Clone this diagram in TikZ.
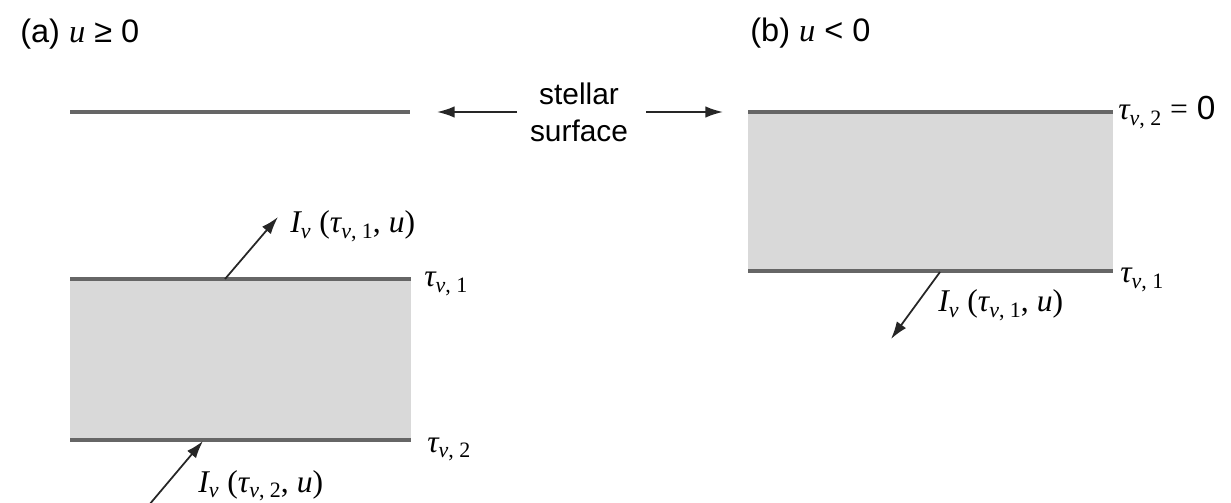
\documentclass[tikz,border=0pt]{standalone}
\usepackage{fontspec}
\setmainfont{Liberation Sans}
\newfontfamily\serifrm{Liberation Serif}
\usetikzlibrary{arrows.meta}
\newcommand{\myit}[1]{{\serifrm\itshape #1}}
\newcommand{\mysub}[1]{\raisebox{-0.35ex}{\fontsize{12.5pt}{13pt}\selectfont\serifrm #1}}
\newcommand{\tauv}[1]{\myit{τ}\mysub{\itshape ν\upshape, #1}}
\newcommand{\Ilabel}[1]{\myit{I}\mysub{\itshape ν}\ {\serifrm (}\tauv{#1}{\serifrm , }\myit{u}{\serifrm )}}
\begin{document}
\begin{tikzpicture}[x=0.02cm,y=-0.02cm,
  surf/.style={draw=black!60,line width=1.8pt},
  slab/.style={fill=black!15},
  arr/.style={draw=black!85,line width=1pt,-{Latex[length=10pt,width=6.5pt]}},
  sanslbl/.style={inner sep=0pt,font=\fontsize{17pt}{20pt}\selectfont},
  titlelbl/.style={inner sep=0pt,font=\fontsize{18.5pt}{21pt}\selectfont},
  mathlbl/.style={inner sep=0pt,font=\fontsize{18pt}{21pt}\selectfont}]
\useasboundingbox (0,0) rectangle (1231,503);
% titles
\node[titlelbl,anchor=base west] (ta) at (20,43) {(a) \myit{u} ≥ 0};
\node[titlelbl,anchor=base west] (tb) at (750,42) {(b) \myit{u} < 0};
% stellar surface label
\node[sanslbl,anchor=base] (st) at (579,105) {stellar};
\node[sanslbl,anchor=base] (sf) at (579,142) {surface};
\coordinate (lt) at (437,112);
\coordinate (rt) at (723,112);
\coordinate (ls) at (517,112);
\coordinate (rs) at (646,112);
\draw[arr] (ls) -- (lt);
\draw[arr] (rs) -- (rt);
% left surface
\coordinate (s1) at (70,112);
\coordinate (s2) at (410,112);
\draw[surf] (s1) -- (s2);
% left slab
\fill[slab] (70,279) rectangle (411,440);
\coordinate (a1) at (70,279);
\coordinate (a2) at (411,279);
\coordinate (b1) at (70,440);
\coordinate (b2) at (411,440);
\draw[surf] (a1) -- (a2);
\draw[surf] (b1) -- (b2);
\node[mathlbl,anchor=base west] (lt1) at (424,287) {\tauv{1}};
\node[mathlbl,anchor=base west] (lt2) at (427,452) {\tauv{2}};
% left arrows
\coordinate (u0) at (225,279);
\coordinate (u1) at (278,217);
\draw[arr] (u0) -- (u1);
\node[mathlbl,anchor=base west] (il1) at (290,233) {\Ilabel{1}};
\coordinate (d0) at (149,505);
\coordinate (d1) at (203,441);
\draw[arr] (d0) -- (d1);
\node[mathlbl,anchor=base west] (il2) at (198,492) {\Ilabel{2}};
% right slab
\fill[slab] (748,112) rectangle (1113,271);
\coordinate (c1) at (748,112);
\coordinate (c2) at (1113,112);
\coordinate (e1) at (748,271);
\coordinate (e2) at (1113,271);
\draw[surf] (c1) -- (c2);
\draw[surf] (e1) -- (e2);
\node[mathlbl,anchor=base west] (rt2) at (1118,120) {\tauv{2} {\serifrm =} \fontsize{19pt}{21pt}\selectfont 0};
\node[mathlbl,anchor=base west] (rt1) at (1120,283) {\tauv{1}};
\coordinate (r0) at (940,272);
\coordinate (r1) at (891,339);
\draw[arr] (r0) -- (r1);
\node[mathlbl,anchor=base west] (ir1) at (938,312) {\Ilabel{1}};
\end{tikzpicture}
\end{document}
